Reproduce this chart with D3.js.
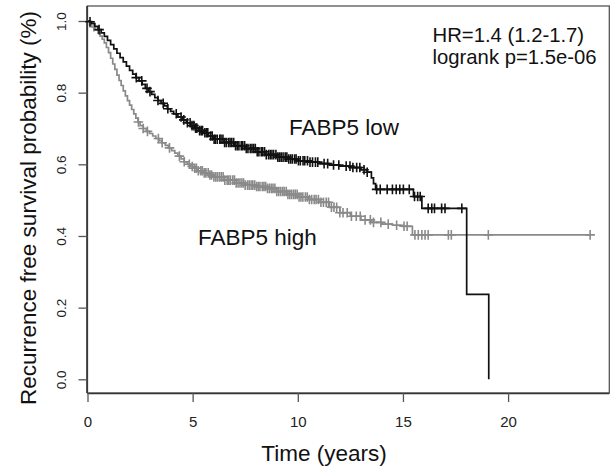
<!DOCTYPE html>
<html>
<head>
<meta charset="utf-8">
<script src="https://cdn.jsdelivr.net/npm/d3@7"></script>
<style>
  html, body { margin: 0; padding: 0; background: #fff; }
  svg { display: block; font-family: "Liberation Sans", Arial, Helvetica, sans-serif; }
</style>
</head>
<body>
<svg id="chart" width="613" height="466"></svg>
<script>
// ---- data ----
const xTicks = [0, 5, 10, 15, 20];
const yTicks = [0.0, 0.2, 0.4, 0.6, 0.8, 1.0];

// FABP5 low (black) Kaplan-Meier steps
const lowTimes = [0, 0.1, 0.2, 0.35, 0.5, 0.65, 0.8, 0.95, 1.1, 1.25, 1.4, 1.55, 1.7, 1.85, 2.0, 2.15, 2.3, 2.45, 2.6, 2.75, 2.9, 3.05, 3.2, 3.35, 3.5, 3.65, 3.8, 3.95, 4.1, 4.3, 4.5, 4.7, 4.9, 5.1, 5.3, 5.5, 5.75, 6.0, 6.5, 7.0, 7.5, 8.0, 8.5, 9.0, 9.5, 10.0, 10.5, 11.0, 11.5, 12.0, 12.5, 13.0, 13.3, 13.5, 13.6, 13.7, 15.5, 15.9, 18.03, 19.08];
const lowSurv  = [1.0, 0.998, 0.993, 0.985, 0.976, 0.967, 0.957, 0.946, 0.934, 0.922, 0.910, 0.898, 0.886, 0.874, 0.862, 0.852, 0.842, 0.833, 0.823, 0.812, 0.803, 0.795, 0.786, 0.778, 0.770, 0.763, 0.755, 0.748, 0.741, 0.732, 0.724, 0.716, 0.708, 0.701, 0.694, 0.688, 0.679, 0.670, 0.661, 0.652, 0.644, 0.635, 0.627, 0.620, 0.615, 0.610, 0.606, 0.602, 0.598, 0.595, 0.591, 0.585, 0.578, 0.562, 0.546, 0.530, 0.510, 0.477, 0.237, 0.0];
const lowCensor = [0.12, 0.55, 2.32, 2.58, 2.83, 2.97, 3.35, 3.6, 3.82, 4.22, 4.45, 4.58, 4.75, 4.88, 4.97, 5.06, 5.14, 5.2, 5.33, 5.41, 5.47, 5.58, 5.66, 5.72, 5.85, 5.93, 6.02, 6.08, 6.17, 6.29, 6.35, 6.44, 6.52, 6.6, 6.71, 6.78, 6.86, 6.95, 7.04, 7.12, 7.2, 7.31, 7.38, 7.47, 7.55, 7.63, 7.74, 7.82, 7.9, 7.98, 8.07, 8.15, 8.26, 8.33, 8.42, 8.5, 8.61, 8.69, 8.77, 8.85, 8.96, 9.05, 9.13, 9.21, 9.3, 9.4, 9.48, 9.57, 9.66, 9.74, 9.85, 9.92, 10.03, 10.12, 10.25, 10.33, 10.46, 10.58, 10.7, 10.84, 10.95, 11.25, 11.42, 11.7, 11.95, 12.3, 12.48, 12.62, 12.8, 12.95, 13.15, 13.3, 13.75, 13.92, 14.25, 14.5, 14.68, 14.85, 15.02, 15.3, 15.55, 15.7, 15.82, 16.2, 16.37, 16.5, 16.84, 17.0, 17.8];

// FABP5 high (gray) Kaplan-Meier steps
const highTimes = [0, 0.1, 0.2, 0.35, 0.5, 0.6, 0.7, 0.8, 0.9, 1.0, 1.1, 1.2, 1.3, 1.4, 1.5, 1.6, 1.7, 1.8, 1.9, 2.0, 2.1, 2.2, 2.3, 2.4, 2.5, 2.65, 2.8, 2.95, 3.1, 3.25, 3.4, 3.55, 3.7, 3.85, 4.0, 4.15, 4.3, 4.45, 4.6, 4.75, 4.9, 5.05, 5.25, 5.5, 5.75, 6.0, 6.5, 7.0, 7.5, 8.0, 8.5, 9.0, 9.5, 10.0, 10.5, 11.0, 11.5, 12.0, 12.5, 13.0, 13.5, 14.0, 14.5, 15.0, 15.45, 23.9];
const highSurv  = [1.0, 0.99, 0.984, 0.975, 0.966, 0.958, 0.949, 0.939, 0.926, 0.912, 0.896, 0.880, 0.865, 0.849, 0.834, 0.820, 0.805, 0.791, 0.778, 0.765, 0.753, 0.741, 0.729, 0.718, 0.708, 0.700, 0.692, 0.686, 0.679, 0.672, 0.666, 0.660, 0.653, 0.646, 0.638, 0.631, 0.623, 0.615, 0.607, 0.600, 0.594, 0.589, 0.582, 0.576, 0.570, 0.565, 0.556, 0.548, 0.542, 0.538, 0.533, 0.524, 0.516, 0.509, 0.502, 0.494, 0.480, 0.465, 0.455, 0.445, 0.438, 0.433, 0.430, 0.427, 0.403, 0.403];
const highCensor = [0.3, 2.42, 2.65, 2.85, 3.37, 3.55, 3.9, 4.37, 4.6, 4.84, 4.98, 5.1, 5.18, 5.27, 5.39, 5.46, 5.55, 5.63, 5.74, 5.82, 5.9, 6.01, 6.1, 6.18, 6.27, 6.36, 6.45, 6.53, 6.64, 6.72, 6.8, 6.91, 6.99, 7.07, 7.16, 7.25, 7.34, 7.42, 7.5, 7.61, 7.69, 7.78, 7.86, 7.95, 8.04, 8.12, 8.2, 8.31, 8.39, 8.47, 8.56, 8.65, 8.74, 8.82, 8.91, 9.0, 9.09, 9.18, 9.27, 9.35, 9.45, 9.53, 9.62, 9.71, 9.8, 9.88, 9.97, 10.06, 10.15, 10.24, 10.36, 10.45, 10.55, 10.66, 10.78, 10.87, 10.98, 11.1, 11.22, 11.35, 11.46, 11.6, 11.72, 11.85, 12.0, 12.15, 12.35, 12.55, 12.78, 12.97, 13.2, 13.45, 13.6, 13.95, 14.3, 14.7, 15.05, 15.2, 15.57, 15.73, 15.9, 16.05, 16.2, 17.16, 17.3, 19.06, 23.9];

const xLabel = "Time (years)";
const yLabel = "Recurrence free survival probability (%)";
const lowLabel = "FABP5 low";
const highLabel = "FABP5 high";
const statLines = ["HR=1.4 (1.2-1.7)", "logrank p=1.5e-06"];

// ---- layout ----
const box = { left: 87.5, right: 609.3, top: 6, bottom: 393 };
const lowColor = "#111111";
const highColor = "#8a8a8a";

const svg = d3.select("#chart");
const x = d3.scaleLinear().domain([0, 20]).range([87.5, 508.1]);
const y = d3.scaleLinear().domain([0, 1]).range([379.3, 21]);

// box
svg.append("rect")
  .attr("x", box.left).attr("y", box.top)
  .attr("width", box.right - box.left).attr("height", box.bottom - box.top)
  .attr("fill", "none").attr("stroke", "#555").attr("stroke-width", 1.3);

// x axis
const xAxis = svg.append("g").attr("transform", `translate(0,${box.bottom})`)
  .call(d3.axisBottom(x).tickValues(xTicks).tickSize(9).tickPadding(14).tickFormat(d3.format("d")));
xAxis.select(".domain").attr("d", `M${box.left},0.5H${box.right}`).attr("stroke", "#333").attr("stroke-width", 1.6);
xAxis.selectAll(".tick line").attr("stroke", "#555").attr("stroke-width", 1.3);
xAxis.selectAll(".tick text").attr("font-size", 15).attr("fill", "#222")
  .attr("font-family", "Liberation Sans, Arial, sans-serif");

// y axis
const yAxis = svg.append("g").attr("transform", `translate(${box.left},0)`)
  .call(d3.axisLeft(y).tickValues(yTicks).tickSize(9).tickFormat(d3.format(".1f")));
yAxis.select(".domain").attr("d", `M-0.5,${box.top}V${box.bottom}`).attr("stroke", "#333").attr("stroke-width", 1.6);
yAxis.selectAll(".tick line").attr("stroke", "#555").attr("stroke-width", 1.3);
yAxis.selectAll(".tick text")
  .attr("x", null).attr("dy", null)
  .attr("transform", "translate(-26,0) rotate(-90)")
  .attr("text-anchor", "middle")
  .attr("dominant-baseline", "central")
  .attr("font-size", 13.5).attr("fill", "#222")
  .attr("font-family", "Liberation Sans, Arial, sans-serif");

// axis titles
svg.append("text").attr("x", 324).attr("y", 461)
  .attr("text-anchor", "middle").attr("font-size", 22.5).attr("fill", "#111")
  .text(xLabel);
svg.append("text")
  .attr("transform", `translate(28,${(6 + 410) / 2}) rotate(-90)`)
  .attr("text-anchor", "middle").attr("dominant-baseline", "central")
  .attr("font-size", 22.5).attr("fill", "#111")
  .text(yLabel);

// curves
const stepLine = d3.line().x(d => x(d[0])).y(d => y(d[1])).curve(d3.curveStepAfter);
function survAt(times, surv, t) {
  const i = d3.bisectRight(times, t) - 1;
  return surv[Math.max(0, i)];
}
function drawCurve(times, surv, censor, color) {
  const pts = times.map((t, i) => [t, surv[i]]);
  svg.append("path").attr("d", stepLine(pts))
    .attr("fill", "none").attr("stroke", color).attr("stroke-width", 1.7);
  const g = svg.append("g").attr("stroke", color).attr("stroke-width", 1.6).attr("fill", "none");
  const s = 4.8;
  g.selectAll("path").data(censor).join("path")
    .attr("d", t => {
      const cx = x(t), cy = y(survAt(times, surv, t));
      return `M${cx - s},${cy}H${cx + s}M${cx},${cy - s}V${cy + s}`;
    });
}
drawCurve(highTimes, highSurv, highCensor, highColor);
drawCurve(lowTimes, lowSurv, lowCensor, lowColor);

// labels
svg.append("text").attr("x", 289).attr("y", 135).attr("font-size", 22.5).attr("fill", "#111").text(lowLabel);
svg.append("text").attr("x", 198).attr("y", 245).attr("font-size", 22.5).attr("fill", "#111").text(highLabel);
svg.selectAll("text.stat").data(statLines).join("text").attr("class", "stat")
  .attr("x", 432.5).attr("y", (d, i) => 41.5 + i * 22)
  .attr("font-size", 20.3).attr("fill", "#111").text(d => d);
</script>
</body>
</html>
